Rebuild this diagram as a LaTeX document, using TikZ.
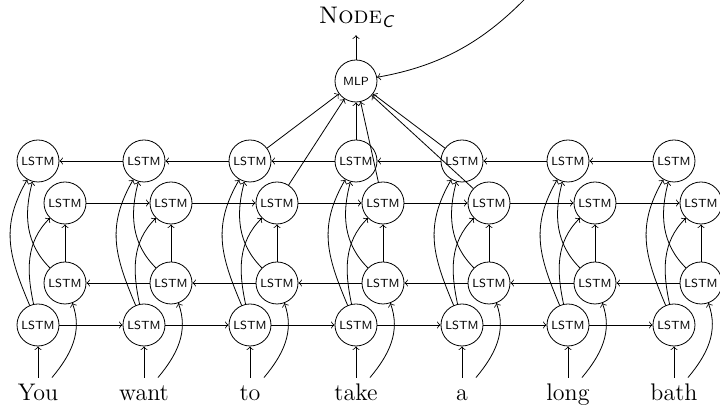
\documentclass[tikz,border=0pt]{standalone}
\usetikzlibrary{arrows}
\begin{document}
\begin{tikzpicture}[x=0.5pt,y=0.5pt,>=to,
  lstm/.style={circle,draw,minimum size=21pt,inner sep=0pt,font=\fontsize{5.9}{7}\selectfont\sffamily},
  word/.style={font=\fontsize{12}{14}\selectfont,text height=8.2pt,text depth=2.3pt,anchor=base,inner sep=3.33pt},
  conn/.style={->}]
\useasboundingbox (0,0) rectangle (720,406);
\clip (0,0) rectangle (720,406);
\foreach \w [count=\i from 0] in {You,want,to,take,a,long,bath} {
  \pgfmathsetmacro\X{38+106*\i}
  \node[word] (w\i) at (\X,5) {\w};
  \node[lstm] (a\i) at (\X,81) {LSTM};
  \node[lstm] (b\i) at (\X+27,123) {LSTM};
  \node[lstm] (c\i) at (\X+27,203) {LSTM};
  \node[lstm] (d\i) at (\X,245) {LSTM};
  \draw[conn] (w\i.north) -- (a\i);
  \draw[conn] ([xshift=7pt]w\i.north) to[out=50,in=-70] (b\i);
  \draw[conn] (a\i) to[out=113,in=-120,looseness=1.1] (d\i);
  \draw[conn] (a\i) to[out=102,in=-135] (c\i);
  \draw[conn] (b\i) to[out=135,in=-105] (d\i);
  \draw[conn] (b\i) -- (c\i);
}
\foreach \i [evaluate=\i as \j using int(\i+1)] in {0,...,5} {
  \draw[conn] (a\i) -- (a\j);
  \draw[conn] (b\j) -- (b\i);
  \draw[conn] (c\i) -- (c\j);
  \draw[conn] (d\j) -- (d\i);
}
\node[lstm] (mlp) at (356,325) {MLP};
\node[font=\fontsize{12}{14}\selectfont,anchor=base] (out) at (356,382) {\textsc{Node}\raisebox{-2pt}{\fontsize{8.5}{10}\selectfont\sffamily\slshape C}};
\draw[conn] (mlp) -- (out);
\foreach \s in {d2,c2,d3,c3,d4,c4} \draw[conn] (\s) -- (mlp);
\coordinate (src) at (560,446);
\draw[conn] (src) to[out=-130,in=10] (mlp);
\end{tikzpicture}
\end{document}
